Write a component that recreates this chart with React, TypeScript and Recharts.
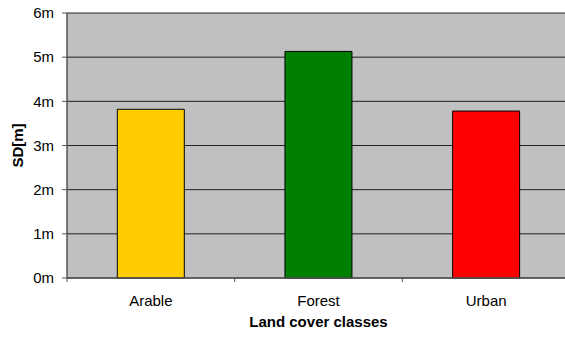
import { BarChart, Bar, XAxis, YAxis, CartesianGrid, Cell } from 'recharts';

const classes = ['Arable', 'Forest', 'Urban'];
const sdValues = [3.82, 5.13, 3.78];
const barColors = ['#ffcc00', '#008000', '#ff0000'];
const yTicks = [0, 1, 2, 3, 4, 5, 6];

const data = classes.map((name, i) => ({ name, sd: sdValues[i] }));

const CHART_W = 580;
const CHART_H = 337;
const MARGIN = { top: 13, right: 10, bottom: 0, left: 0 };
const Y_AXIS_W = 67;
const X_AXIS_H = 59;
const FONT = '"Liberation Sans", Arial, sans-serif';

const plotWidth = CHART_W - MARGIN.left - MARGIN.right - Y_AXIS_W;
const plotBottom = CHART_H - MARGIN.bottom - X_AXIS_H;
const halfBand = plotWidth / classes.length / 2;

// category label at the band centre, tick marks on the band edges
function CategoryTick({ x, payload, index }: { x?: number; payload?: { value: string }; index?: number }) {
  if (x == null || !payload) return null;
  const last = index === classes.length - 1;
  return (
    <g>
      <line x1={x - halfBand} x2={x - halfBand} y1={plotBottom} y2={plotBottom + 4} stroke="#555" />
      {last && <line x1={x + halfBand} x2={x + halfBand} y1={plotBottom} y2={plotBottom + 4} stroke="#555" />}
      <text x={x} y={plotBottom + 28} textAnchor="middle" fontSize={15} fontFamily={FONT} fill="#000">
        {payload.value}
      </text>
    </g>
  );
}

function YTitle() {
  const cy = MARGIN.top + (plotBottom - MARGIN.top) / 2;
  return (
    <text
      x={17}
      y={cy}
      transform={`rotate(-90 17 ${cy})`}
      textAnchor="middle"
      dominantBaseline="central"
      fontSize={15}
      fontWeight="bold"
      fontFamily={FONT}
      fill="#000"
    >
      SD[m]
    </text>
  );
}

export default function App() {
  return (
    <div style={{ position: 'absolute', left: 0, top: 0, width: 565, height: 337, overflow: 'hidden', background: '#fff' }}>
      <BarChart width={CHART_W} height={CHART_H} data={data} margin={MARGIN} barCategoryGap="30%">
        <CartesianGrid fill="#c0c0c0" stroke="#222" vertical={false} />
        <XAxis
          dataKey="name"
          height={X_AXIS_H}
          tick={<CategoryTick />}
          tickLine={false}
          axisLine={{ stroke: '#555', strokeWidth: 1.5 }}
          interval={0}
          label={{
            value: 'Land cover classes',
            position: 'insideBottom',
            offset: 10,
            fontSize: 15,
            fontWeight: 'bold',
            fontFamily: FONT,
            fill: '#000',
          }}
        />
        <YAxis
          width={Y_AXIS_W}
          domain={[0, 6]}
          ticks={yTicks}
          tickFormatter={(v: number) => `${v}m`}
          tickSize={5}
          tickMargin={8}
          tick={{ fontSize: 15, fontFamily: FONT, fill: '#000' }}
          tickLine={{ stroke: '#555' }}
          axisLine={{ stroke: '#555', strokeWidth: 1.5 }}
          label={<YTitle />}
        />
        <Bar dataKey="sd" stroke="#000" strokeWidth={1} isAnimationActive={false}>
          {data.map((d, i) => (
            <Cell key={d.name} fill={barColors[i]} />
          ))}
        </Bar>
      </BarChart>
    </div>
  );
}
